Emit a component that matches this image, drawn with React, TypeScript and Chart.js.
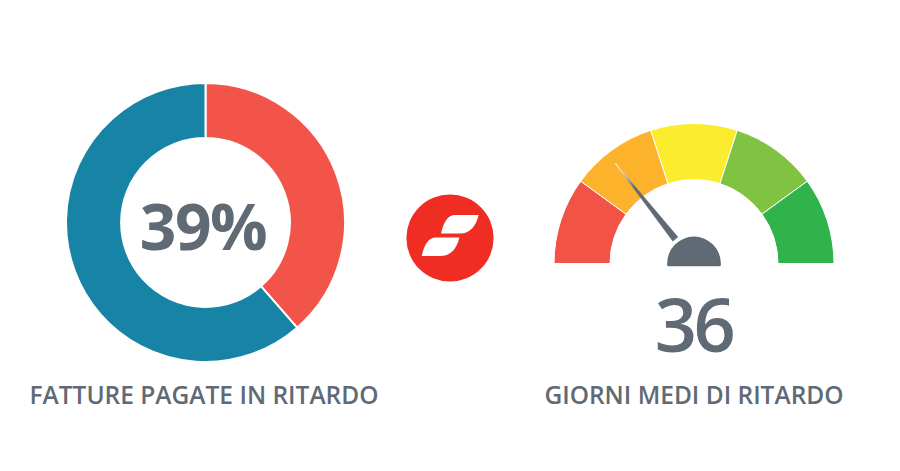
import React, { useEffect, useRef } from "react";
import { Chart, registerables } from "chart.js";

Chart.register(...registerables);

const donutLabels = ["In ritardo", "Puntuali"];
const donutValues = [38.6, 61.4];
const donutColors = ["#F3544A", "#1784A5"];
const donutCenterText = "39%";
const donutCaption = "FATTURE PAGATE IN RITARDO";

const gaugeLabels = ["Critico", "Alto", "Medio", "Buono", "Ottimo"];
const gaugeValues = [25, 25, 25, 25, 25];
const gaugeColors = ["#F15447", "#FDB22B", "#FBEC2E", "#80C342", "#31B34C"];
const gaugeNeedleValue = 36;
const gaugeCaption = "GIORNI MEDI DI RITARDO";

const INK = "#5F6A75";
const FONT = '"Open Sans", sans-serif';

const needlePlugin = {
  id: "needle",
  afterDatasetsDraw(chart: any) {
    const arc = chart.getDatasetMeta(0).data[0];
    if (!arc) return;
    const { x, y } = arc;
    const outer = arc.outerRadius;
    const ctx = chart.ctx;
    const total = gaugeValues.reduce((a, b) => a + b, 0);
    const angle = Math.PI + (gaugeNeedleValue / total) * Math.PI;
    const cos = Math.cos(angle);
    const sin = Math.sin(angle);
    const tipR = outer * 0.91;
    const baseR = outer * 0.222;
    const half = 3.2;
    const tipX = x + cos * tipR;
    const tipY = y + sin * tipR;
    const bx = x + cos * baseR + 0.5;
    const by = y + sin * baseR;
    ctx.save();
    const grad = ctx.createLinearGradient(tipX, tipY, bx, by);
    grad.addColorStop(0, "#FFFFFF");
    grad.addColorStop(0.12, "#D5D8DB");
    grad.addColorStop(0.32, "#5F6A75");
    grad.addColorStop(1, "#5F6A75");
    ctx.fillStyle = grad;
    ctx.strokeStyle = grad;
    ctx.lineWidth = 0.7;
    ctx.lineJoin = "round";
    ctx.beginPath();
    ctx.moveTo(tipX, tipY);
    ctx.lineTo(bx - sin * half, by + cos * half);
    ctx.lineTo(bx + sin * half, by - cos * half);
    ctx.closePath();
    ctx.fill();
    ctx.stroke();
    const hub = outer * 0.192;
    const foot = 2.7;
    ctx.fillStyle = INK;
    ctx.beginPath();
    ctx.arc(x, y, hub, Math.PI, 2 * Math.PI);
    ctx.lineTo(x + hub, y + foot - 1.5);
    ctx.quadraticCurveTo(x + hub, y + foot, x + hub - 1.5, y + foot);
    ctx.lineTo(x - hub + 1.5, y + foot);
    ctx.quadraticCurveTo(x - hub, y + foot, x - hub, y + foot - 1.5);
    ctx.closePath();
    ctx.fill();
    ctx.restore();
  },
};

const LOGO_LEAF = "M50 22 L73.7 22 C71 33 65 40.5 55 40.5 L36 40.5 C38.5 29 43 22 50 22 Z";

function Logo() {
  return (
    <svg width={90} height={90} viewBox="0 0 90 90" style={{ position: "absolute", left: 405, top: 193 }} aria-hidden="true">
      <circle cx={45} cy={45} r={43.6} fill="#F02D23" />
      <path d={LOGO_LEAF} fill="#fff" />
      <path d={LOGO_LEAF} fill="#fff" transform="translate(-19.3 22.4)" />
    </svg>
  );
}

function Label(props: { left: number; top: number; width: number; size: number; weight: number; text: string; spacing?: number }) {
  return (
    <div
      style={{
        position: "absolute",
        left: props.left,
        top: props.top,
        width: props.width,
        textAlign: "center",
        fontFamily: FONT,
        fontSize: props.size,
        fontWeight: props.weight,
        lineHeight: `${Math.round(props.size * 1.2)}px`,
        letterSpacing: props.spacing ?? 0,
        color: INK,
        whiteSpace: "nowrap",
      }}
    >
      {props.text}
    </div>
  );
}

export default function App() {
  const donutRef = useRef<HTMLCanvasElement>(null);
  const gaugeRef = useRef<HTMLCanvasElement>(null);

  useEffect(() => {
    document.body.style.margin = "0";
    document.body.style.background = "#fff";
    const donut = new Chart(donutRef.current!, {
      type: "doughnut",
      data: {
        labels: donutLabels,
        datasets: [{ data: donutValues, backgroundColor: donutColors, borderColor: "#fff", borderWidth: 2, hoverOffset: 0 }],
      },
      options: {
        responsive: false,
        animation: false,
        cutout: "60.5%",
        layout: { padding: 0 },
        plugins: { legend: { display: false }, tooltip: { enabled: false } },
      },
    });
    const gauge = new Chart(gaugeRef.current!, {
      type: "doughnut",
      data: {
        labels: gaugeLabels,
        datasets: [{ data: gaugeValues, backgroundColor: gaugeColors, borderColor: "#fff", borderWidth: 1, hoverOffset: 0 }],
      },
      options: {
        responsive: false,
        animation: false,
        rotation: -90,
        circumference: 180,
        cutout: "60%",
        layout: { padding: { bottom: 6 } },
        plugins: { legend: { display: false }, tooltip: { enabled: false } },
      },
      plugins: [needlePlugin],
    });
    return () => {
      donut.destroy();
      gauge.destroy();
    };
  }, []);

  return (
    <div style={{ position: "relative", width: 900, height: 471, overflow: "hidden", background: "#fff" }}>
      <canvas ref={donutRef} width={281} height={281} style={{ position: "absolute", left: 65, top: 82 }} />
      <canvas ref={gaugeRef} width={282} height={147} style={{ position: "absolute", left: 552.5, top: 123 }} />
      <Logo />
      <Label left={53} top={187} width={300} size={64} weight={700} spacing={-1.5} text={donutCenterText} />
      <Label left={543.5} top={279} width={300} size={74} weight={600} spacing={-3.5} text={String(gaugeNeedleValue)} />
      <Label left={4} top={380} width={400} size={24.5} weight={600} text={donutCaption} />
      <Label left={494} top={380} width={400} size={24.5} weight={600} text={gaugeCaption} />
    </div>
  );
}
